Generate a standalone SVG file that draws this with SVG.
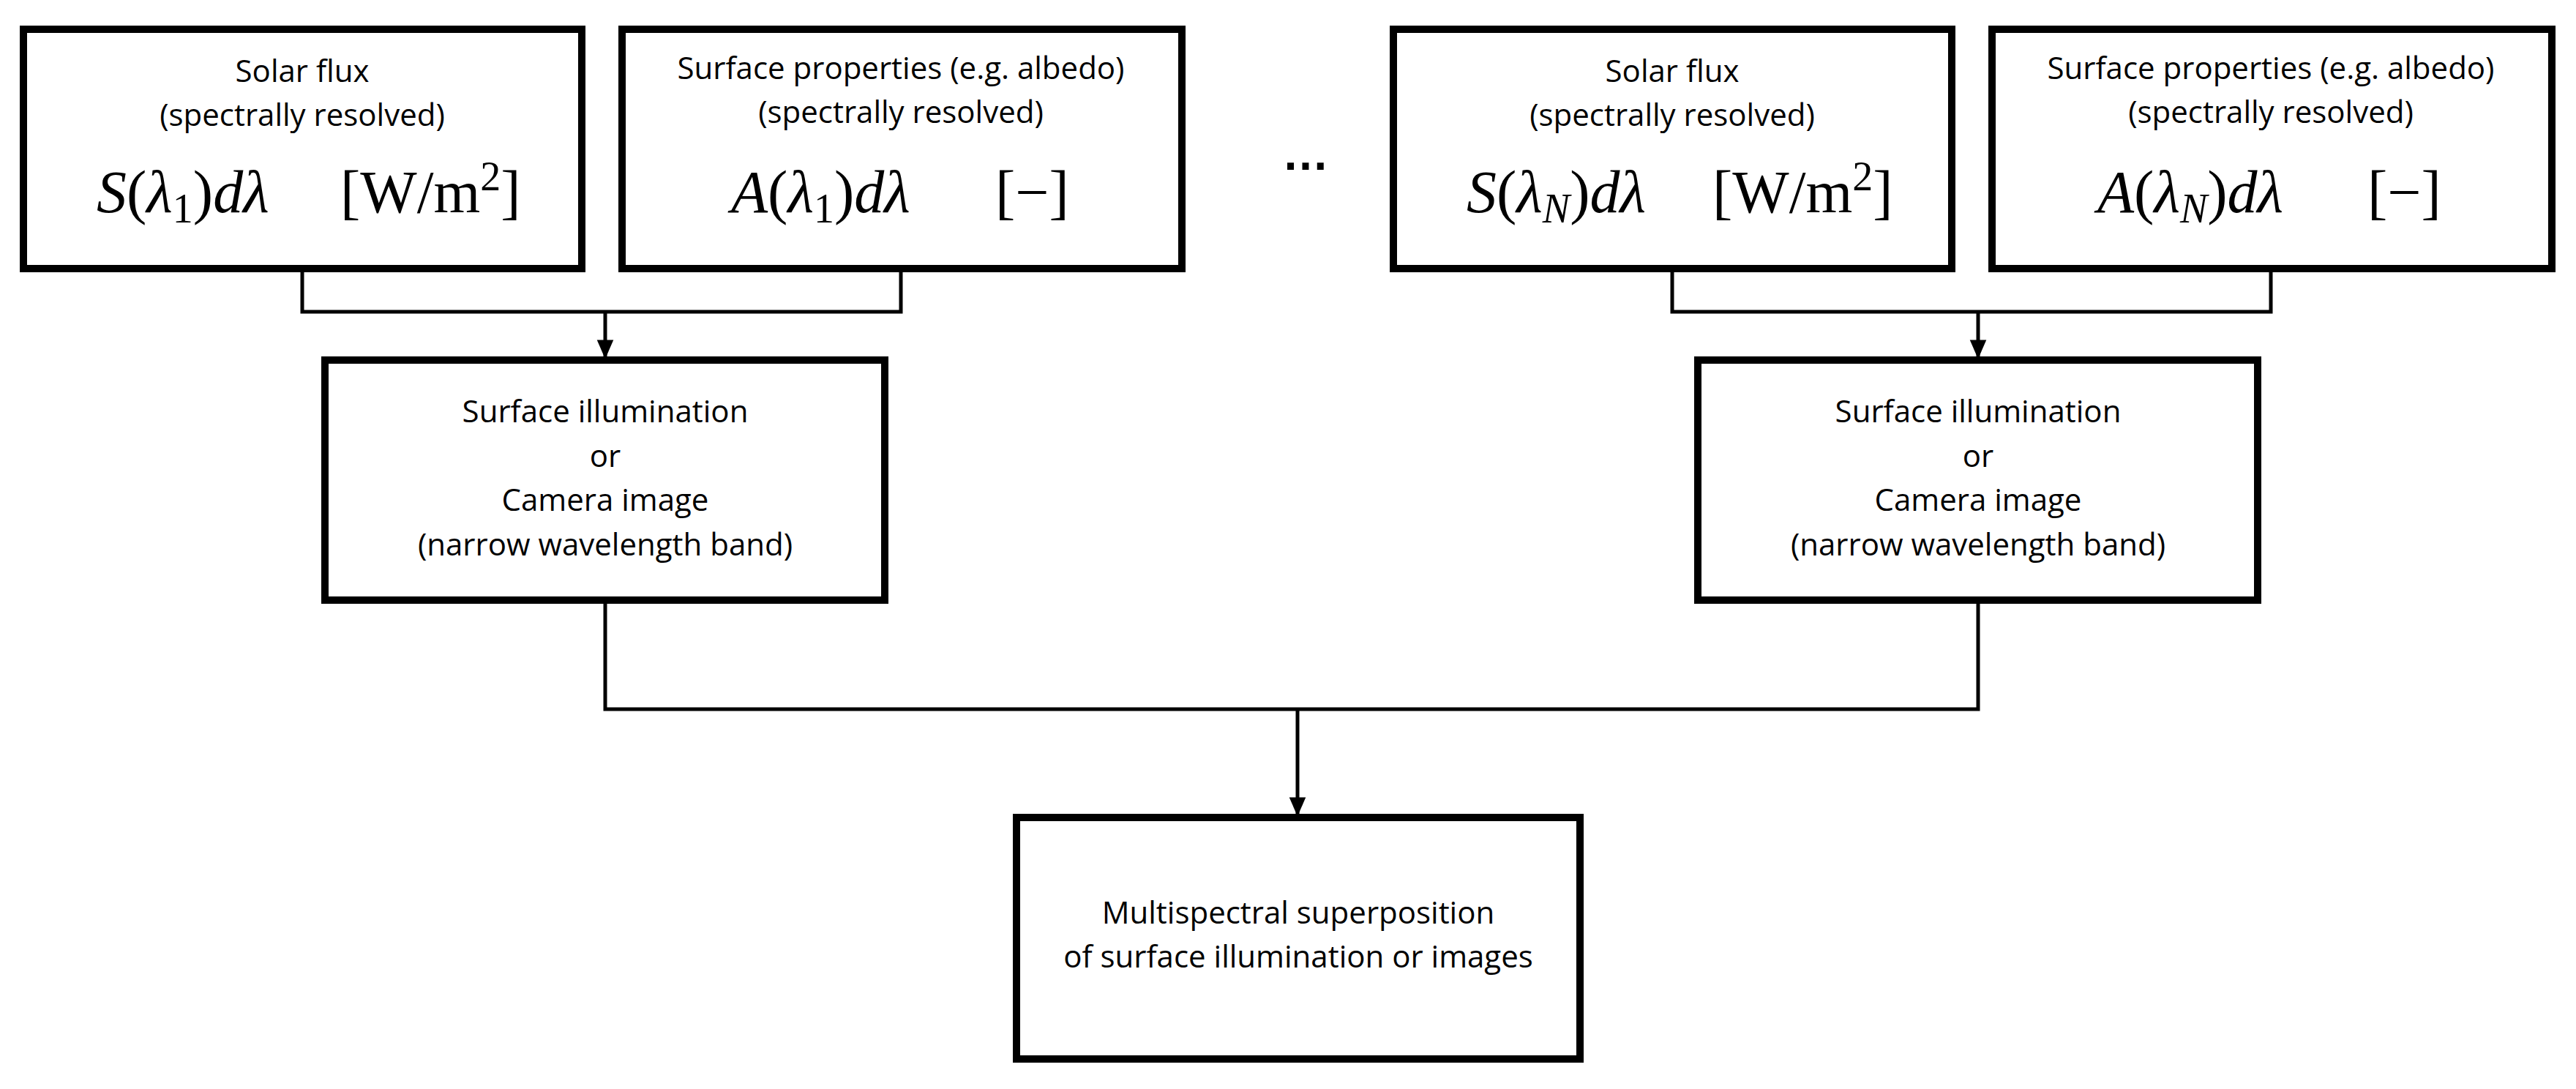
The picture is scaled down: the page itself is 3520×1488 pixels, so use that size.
<svg xmlns="http://www.w3.org/2000/svg" width="3520" height="1488" viewBox="0 0 3520 1488">
<style>
.box{fill:#fff;stroke:#000;stroke-width:10}
.t{font-family:"Open Sans","Liberation Sans",sans-serif;font-size:42px;text-anchor:middle;fill:#000}
.m{font-family:"Liberation Serif",serif;font-size:82px;fill:#000}
.i{font-style:italic}
.c{fill:none;stroke:#000;stroke-width:5}
</style>
<defs><marker id="a" markerWidth="26" markerHeight="30" refX="26" refY="13" orient="auto" markerUnits="userSpaceOnUse" viewBox="0 0 30 26"><path d="M0,0 L30,13 L0,26 Z"/></marker></defs>
<rect width="3520" height="1488" fill="#fff"/>
<g id="connectors">
<path class="c" d="M413,367 V426 H1231 V367"/>
<path class="c" d="M827,426 V487" marker-end="url(#a)"/>
<path class="c" d="M2285,367 V426 H3103 V367"/>
<path class="c" d="M2703,426 V487" marker-end="url(#a)"/>
<path class="c" d="M827,820 V969 H2703 V820"/>
<path class="c" d="M1773,969 V1112" marker-end="url(#a)"/>
</g>
<g id="n1"><rect class="box" x="32" y="40" width="763" height="327"/>
<text class="t" x="413" y="112">Solar flux</text><text class="t" x="413" y="172">(spectrally resolved)</text>
<text class="m" x="132" y="290"><tspan class="i">S</tspan>(<tspan class="i">λ</tspan><tspan font-size="56" dy="14">1</tspan><tspan dy="-14">)</tspan><tspan class="i">dλ</tspan></text>
<text class="m" x="465" y="290">[W/m<tspan font-size="56" dy="-30">2</tspan><tspan dy="30">]</tspan></text></g>
<g id="n2"><rect class="box" x="850" y="40" width="765" height="327"/>
<text class="t" x="1231" y="108">Surface properties (e.g. albedo)</text><text class="t" x="1231" y="168">(spectrally resolved)</text>
<text class="m" x="999" y="290"><tspan class="i">A</tspan>(<tspan class="i">λ</tspan><tspan font-size="56" dy="14">1</tspan><tspan dy="-14">)</tspan><tspan class="i">dλ</tspan></text>
<text class="m" x="1360" y="290">[−]</text></g>
<text id="dots" x="1784" y="232" font-family="Liberation Sans,sans-serif" font-size="64" font-weight="bold" text-anchor="middle">…</text>
<g id="n3"><rect class="box" x="1904" y="40" width="763" height="327"/>
<text class="t" x="2285" y="112">Solar flux</text><text class="t" x="2285" y="172">(spectrally resolved)</text>
<text class="m" x="2004" y="290"><tspan class="i">S</tspan>(<tspan class="i">λ</tspan><tspan class="i" font-size="56" dy="14">N</tspan><tspan dy="-14">)</tspan><tspan class="i">dλ</tspan></text>
<text class="m" x="2340" y="290">[W/m<tspan font-size="56" dy="-30">2</tspan><tspan dy="30">]</tspan></text></g>
<g id="n4"><rect class="box" x="2722" y="40" width="765" height="327"/>
<text class="t" x="3103" y="108">Surface properties (e.g. albedo)</text><text class="t" x="3103" y="168">(spectrally resolved)</text>
<text class="m" x="2866" y="290"><tspan class="i">A</tspan>(<tspan class="i">λ</tspan><tspan class="i" font-size="56" dy="14">N</tspan><tspan dy="-14">)</tspan><tspan class="i">dλ</tspan></text>
<text class="m" x="3235" y="290">[−]</text></g>
<g id="n5"><rect class="box" x="444" y="492" width="765" height="328"/>
<text class="t" x="827" y="577">Surface illumination</text><text class="t" x="827" y="638">or</text><text class="t" x="827" y="698">Camera image</text><text class="t" x="827" y="759">(narrow wavelength band)</text></g>
<g id="n6"><rect class="box" x="2320" y="492" width="765" height="328"/>
<text class="t" x="2703" y="577">Surface illumination</text><text class="t" x="2703" y="638">or</text><text class="t" x="2703" y="698">Camera image</text><text class="t" x="2703" y="759">(narrow wavelength band)</text></g>
<g id="n7"><rect class="box" x="1389" y="1117" width="770" height="330"/>
<text class="t" x="1774" y="1262">Multispectral superposition</text><text class="t" x="1774" y="1322">of surface illumination or images</text></g>
</svg>
